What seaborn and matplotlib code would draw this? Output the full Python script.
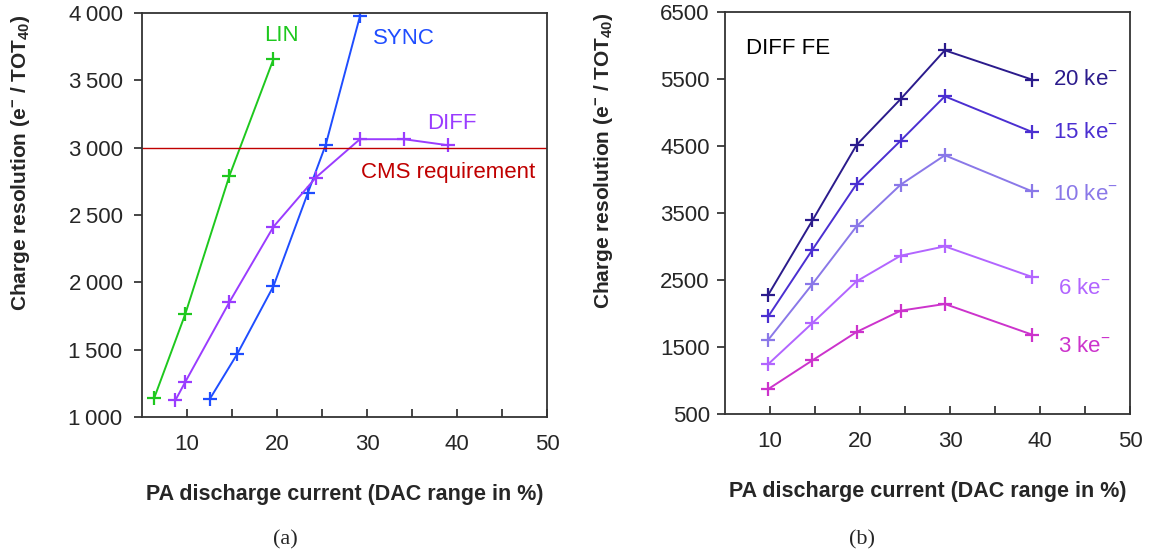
import numpy as np
import pandas as pd
import seaborn as sns
import matplotlib.pyplot as plt
from matplotlib.ticker import FixedLocator, FuncFormatter

# ---- data: panel (a) ----
lin_x = [6.35, 9.8, 14.7, 19.6]
lin_y = [1141, 1764, 2790, 3658]
sync_x = [12.5, 15.6, 19.6, 23.4, 25.4, 29.2]
sync_y = [1131, 1471, 1972, 2661, 3021, 3975]
diff_x = [8.7, 9.8, 14.7, 19.6, 24.3, 29.2, 34.1, 39.0]
diff_y = [1124, 1260, 1853, 2413, 2778, 3063, 3063, 3018]
cms_req = 3000

# ---- data: panel (b) ----
fe_x = [9.8, 14.7, 19.6, 24.5, 29.4, 39.1]
fe_labels = ["20 ke$^{-}$", "15 ke$^{-}$", "10 ke$^{-}$", "6 ke$^{-}$", "3 ke$^{-}$"]
fe_20 = [2281, 3390, 4515, 5201, 5928, 5490]
fe_15 = [1958, 2953, 3933, 4580, 5241, 4709]
fe_10 = [1609, 2440, 3301, 3923, 4361, 3823]
fe_6 = [1246, 1858, 2480, 2863, 3002, 2545]
fe_3 = [873, 1301, 1724, 2042, 2142, 1684]

x_ticks = [10, 20, 30, 40, 50]
y_ticks_a = [1000, 1500, 2000, 2500, 3000, 3500, 4000]
y_ticks_b = [500, 1500, 2500, 3500, 4500, 5500, 6500]

sns.set_style("ticks")
plt.rcParams['font.family'] = ['Liberation Sans', 'DejaVu Sans']
plt.rcParams['mathtext.fontset'] = 'custom'
plt.rcParams['mathtext.rm'] = 'Liberation Sans'
plt.rcParams['mathtext.bf'] = 'Liberation Sans:bold'
plt.rcParams['mathtext.default'] = 'rm'

fig = plt.figure(figsize=(11.51, 5.59), dpi=100)
ax1 = fig.add_axes([0.1234, 0.254, 0.352, 0.7227])
ax2 = fig.add_axes([0.630, 0.2594, 0.352, 0.7192])

mk = dict(marker='+', markersize=10, markeredgewidth=1.6, linewidth=1.4, sort=False)

c_lin, c_sync, c_diff, c_cms = "#1ec81e", "#1f4dff", "#9a3cff", "#c00000"
for xs, ys, c in [(lin_x, lin_y, c_lin), (sync_x, sync_y, c_sync), (diff_x, diff_y, c_diff)]:
    sns.lineplot(x=xs, y=ys, ax=ax1, color=c, markeredgecolor=c, **mk)
ax1.axhline(cms_req, color=c_cms, linewidth=1.0)

ax1.text(18.6, 3835, "LIN", color=c_lin, fontsize=16, va='center')
ax1.text(30.6, 3810, "SYNC", color=c_sync, fontsize=16, va='center')
ax1.text(36.7, 3180, "DIFF", color=c_diff, fontsize=16, va='center')
ax1.text(29.3, 2815, "CMS requirement", color=c_cms, fontsize=16, va='center')

fe_colors = ["#2b1b8c", "#4b2fd1", "#8a78e8", "#b265ff", "#cc33cc"]
fe_series = [fe_20, fe_15, fe_10, fe_6, fe_3]
label_pos = [(41.4, 5485), (41.4, 4694), (41.4, 3769), (42.0, 2366), (42.0, 1500)]
for ys, col, lab, (tx, ty) in zip(fe_series, fe_colors, fe_labels, label_pos):
    sns.lineplot(x=fe_x, y=ys, ax=ax2, color=col, markeredgecolor=col, **mk)
    ax2.text(tx, ty, lab, color=col, fontsize=16, va='center')
ax2.text(7.3, 5960, "DIFF FE", color='black', fontsize=16, va='center')

thin = FuncFormatter(lambda v, p: f"{int(v):,}".replace(",", "\u2009"))

for ax, yt, fmt, ypad in [(ax1, y_ticks_a, thin, 8), (ax2, y_ticks_b, None, 5)]:
    ax.set_xlim(5, 50)
    ax.set_ylim(yt[0], yt[-1])
    ax.xaxis.set_major_locator(FixedLocator(x_ticks))
    ax.xaxis.set_minor_locator(FixedLocator([15, 25, 35, 45]))
    ax.yaxis.set_major_locator(FixedLocator(yt))
    if fmt is not None:
        ax.yaxis.set_major_formatter(fmt)
    ax.tick_params(axis='x', which='both', direction='in', length=6, width=1.2,
                   pad=12, labelsize=16)
    ax.tick_params(axis='y', direction='out', length=6, width=1.2, pad=ypad, labelsize=16)
    for s in ax.spines.values():
        s.set_linewidth(1.3)
        s.set_color('#333333')
    ax.set_xlabel("PA discharge current (DAC range in %)", fontsize=15.5, fontweight='bold',
                  labelpad=21)
    ax.set_ylabel(r"Charge resolution (e$^{\mathbf{-}}$ / TOT$_{\mathbf{40}}$)",
                  fontsize=15, fontweight='bold')
    ax.yaxis.set_label_coords(-0.272, 0.63)

fig.text(285 / 1151, 1 - 540 / 559, "(a)", family='Liberation Serif', fontsize=16,
         ha='center', va='center')
fig.text(862 / 1151, 1 - 540 / 559, "(b)", family='Liberation Serif', fontsize=16,
         ha='center', va='center')

fig.savefig("out.png", dpi=100)
